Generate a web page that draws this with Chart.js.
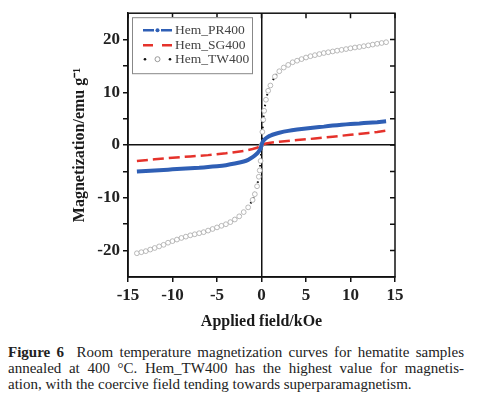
<!DOCTYPE html>
<html>
<head>
<meta charset="utf-8">
<script src="https://cdn.jsdelivr.net/npm/chart.js@4"></script>
<style>
  html, body { margin: 0; padding: 0; background: #fff; }
  #wrap { position: relative; width: 480px; height: 399px; overflow: hidden; }
  #box { position: absolute; left: 0; top: 0; width: 480px; height: 336px; }
  #caption { position: absolute; left: 8px; top: 344px; width: 456px;
    font-family: "Liberation Serif", serif; font-size: 15px; line-height: 16px; color: #222; }
  #caption div { text-align: justify; text-align-last: justify; white-space: nowrap; }
  #caption div.last { text-align-last: left; }
</style>
</head>
<body>
<div id="wrap">
  <div id="box"><canvas id="chart"></canvas></div>
  <div id="caption">
    <div style="white-space:normal"><b>Figure 6</b>&nbsp; Room temperature magnetization curves for hematite samples</div>
    <div style="white-space:normal">annealed at 400 °C. Hem_TW400 has the highest value for magnetis-</div>
    <div class="last">ation, with the coercive field tending towards superparamagnetism.</div>
  </div>
</div>
<script>
// 凡例のラベル
const seriesNames = ['Hem_PR400', 'Hem_SG400', 'Hem_TW400'];

// Hem_PR400 (磁場 kOe / 磁化 emu/g)
const prField = [-14, -13, -12, -11, -10, -9, -8, -7, -6, -5, -4, -3, -2, -1.5, -1, -0.5, -0.3, -0.1, 0,
  0.1, 0.2, 0.3, 0.5, 0.75, 1, 1.5, 2, 3, 4, 5, 6, 7, 8, 9, 10, 11, 12, 13, 14];
const prMag = [-5.0, -4.9, -4.8, -4.7, -4.6, -4.5, -4.4, -4.3, -4.15, -4.0, -3.8, -3.5, -3.1, -2.8, -2.3, -1.6, -1.2, -0.6, 0,
  0.5, 0.8, 1.0, 1.3, 1.6, 1.8, 2.1, 2.35, 2.7, 2.95, 3.15, 3.35, 3.5, 3.7, 3.85, 4.0, 4.1, 4.25, 4.35, 4.5];

// Hem_SG400
const sgField = [-14, -12, -10, -8, -6, -4, -2, -1, -0.5, 0, 0.5, 1, 2, 4, 6, 8, 10, 12, 13, 14];
const sgMag = [-3.0, -2.7, -2.4, -2.15, -1.9, -1.55, -1.1, -0.75, -0.5, 0, 0.3, 0.45, 0.65, 0.95, 1.25, 1.6, 1.95, 2.3, 2.5, 2.75];

// Hem_TW400
const twField = [-14, -13.5, -13, -12.5, -12, -11.5, -11, -10.5, -10, -9.5, -9, -8.5, -8, -7.5, -7, -6.5, -6, -5.5,
  -5, -4.5, -4, -3.5, -3, -2.5, -2, -1.5, -1, -0.75, -0.5, -0.3, -0.2, -0.1, 0,
  0.1, 0.2, 0.3, 0.5, 0.75, 1, 1.5, 2, 2.5, 3, 3.5, 4, 4.5, 5, 5.5, 6, 6.5, 7, 7.5, 8, 8.5, 9, 9.5,
  10, 10.5, 11, 11.5, 12, 12.5, 13, 13.5, 14];
const twMag = [-20.5, -20.3, -20.1, -19.8, -19.5, -19.2, -18.9, -18.5, -18.2, -17.9, -17.6, -17.35, -17.1, -16.9, -16.7, -16.5, -16.2, -15.9,
  -15.6, -15.3, -15.0, -14.6, -14.1, -13.5, -12.7, -11.8, -10.4, -9.3, -7.8, -6.0, -4.8, -3.0, 0,
  2.5, 4.8, 6.5, 8.6, 10.3, 11.3, 13.0, 14.0, 14.7, 15.2, 15.7, 16.0, 16.3, 16.6, 16.85, 17.05, 17.25, 17.45, 17.6, 17.75, 17.9, 18.05, 18.2,
  18.35, 18.5, 18.6, 18.75, 18.9, 19.05, 19.2, 19.35, 19.5];

// 軸の目盛り
const xTicks = [-15, -10, -5, 0, 5, 10, 15];
const yLabelTicks = [-20, -10, 0, 10, 20];

const blue = '#2f5fb5';
const red = '#e5322b';

function toPoints(xs, ys) {
  return xs.map((x, i) => ({ x: x, y: ys[i] }));
}

// 枠線と右・上の内向き目盛り
const framePlugin = {
  id: 'frame',
  afterDatasetsDraw(chart) {
    const { ctx, chartArea: a, scales } = chart;
    ctx.save();
    ctx.strokeStyle = '#111';
    ctx.lineWidth = 1.5;
    ctx.strokeRect(a.left, a.top, a.right - a.left, a.bottom - a.top);
    ctx.beginPath();
    for (let v = -20; v <= 20; v += 5) {
      const y = scales.y.getPixelForValue(v);
      ctx.moveTo(a.right, y);
      ctx.lineTo(a.right - 5, y);
    }
    xTicks.forEach(v => {
      const x = scales.x.getPixelForValue(v);
      ctx.moveTo(x, a.top);
      ctx.lineTo(x, a.top + 5);
    });
    ctx.stroke();
    ctx.restore();
  }
};

// 凡例（左上の枠内）
const legendPlugin = {
  id: 'boxLegend',
  afterDraw(chart) {
    const ctx = chart.ctx;
    const a = chart.chartArea;
    const bx = a.left + 4, by = a.top + 4, bw = 120, bh = 56;
    ctx.save();
    ctx.fillStyle = '#fff';
    ctx.fillRect(bx, by, bw, bh);
    ctx.strokeStyle = '#888';
    ctx.lineWidth = 1;
    ctx.strokeRect(bx + 0.5, by + 0.5, bw, bh);
    const x0 = bx + 11, x1 = bx + 40;
    const rows = [by + 13, by + 28, by + 42];
    // PR400
    ctx.strokeStyle = blue;
    ctx.lineWidth = 2.5;
    ctx.beginPath();
    ctx.moveTo(x0, rows[0]); ctx.lineTo(x0 + 11, rows[0]);
    ctx.moveTo(x1 - 11, rows[0]); ctx.lineTo(x1, rows[0]);
    ctx.stroke();
    ctx.fillStyle = blue;
    ctx.beginPath(); ctx.arc((x0 + x1) / 2, rows[0], 2, 0, Math.PI * 2); ctx.fill();
    // SG400
    ctx.strokeStyle = red;
    ctx.beginPath();
    ctx.moveTo(x0, rows[1]); ctx.lineTo(x0 + 10, rows[1]);
    ctx.moveTo(x1 - 10, rows[1]); ctx.lineTo(x1, rows[1]);
    ctx.stroke();
    // TW400
    ctx.fillStyle = '#111';
    ctx.beginPath(); ctx.arc(x0 + 2, rows[2], 1.3, 0, Math.PI * 2); ctx.fill();
    ctx.beginPath(); ctx.arc(x1 - 2, rows[2], 1.3, 0, Math.PI * 2); ctx.fill();
    ctx.strokeStyle = '#999';
    ctx.lineWidth = 1;
    ctx.beginPath(); ctx.arc((x0 + x1) / 2, rows[2], 2.5, 0, Math.PI * 2); ctx.stroke();
    // テキスト
    ctx.fillStyle = '#444';
    ctx.font = '13.5px "Liberation Serif"';
    ctx.textBaseline = 'middle';
    seriesNames.forEach((name, i) => ctx.fillText(name, x1 + 3, rows[i]));
    ctx.restore();
  }
};

const ctx = document.getElementById('chart').getContext('2d');

new Chart(ctx, {
  type: 'scatter',
  data: {
    datasets: [{
      label: seriesNames[0],
      data: toPoints(prField, prMag),
      showLine: true,
      borderColor: blue,
      backgroundColor: blue,
      borderWidth: 4,
      pointRadius: 0,
      tension: 0.2
    }, {
      label: seriesNames[1],
      data: toPoints(sgField, sgMag),
      showLine: true,
      borderColor: red,
      backgroundColor: red,
      borderWidth: 2.5,
      borderDash: [11, 5],
      pointRadius: 0
    }, {
      label: seriesNames[2],
      data: toPoints(twField, twMag),
      showLine: true,
      borderColor: '#111',
      borderWidth: 2,
      borderDash: [1.5, 4],
      pointRadius: 2.4,
      pointBorderWidth: 0.8,
      pointBorderColor: '#a8a8a8',
      pointBackgroundColor: '#fff'
    }]
  },
  options: {
    responsive: true,
    maintainAspectRatio: false,
    animation: false,
    layout: { padding: { left: 0, right: 85, top: 8, bottom: 0 } },
    plugins: {
      legend: { display: false },
      tooltip: { enabled: false }
    },
    scales: {
      x: {
        type: 'linear',
        min: -15,
        max: 15,
        afterFit: s => { s.height = 59; },
        afterBuildTicks: s => { s.ticks = xTicks.map(v => ({ value: v })); },
        border: { display: true, color: '#111', width: 1.5 },
        grid: {
          drawOnChartArea: true,
          color: c => (c.tick && c.tick.value === 0 ? '#111' : 'rgba(0,0,0,0)'),
          lineWidth: 1.5,
          tickColor: '#111',
          tickLength: 5
        },
        ticks: {
          color: '#222',
          padding: 3,
          font: { family: 'Liberation Serif', size: 17, weight: 'bold' }
        },
        title: {
          display: true,
          text: 'Applied field/kOe',
          color: '#1a1a1a',
          font: { family: 'Liberation Serif', size: 16, weight: 'bold' },
          padding: { top: 0, bottom: 5 }
        }
      },
      y: {
        type: 'linear',
        min: -25,
        max: 25,
        afterFit: s => { s.width = 128; },
        ticks: {
          stepSize: 5,
          color: '#222',
          padding: 3,
          font: { family: 'Liberation Serif', size: 17, weight: 'bold' },
          callback: v => (yLabelTicks.includes(v) ? v : '')
        },
        border: { display: true, color: '#111', width: 1.5 },
        grid: {
          drawOnChartArea: true,
          color: c => (c.tick && c.tick.value === 0 ? '#111' : 'rgba(0,0,0,0)'),
          lineWidth: 1.5,
          tickColor: c => (c.tick && Math.abs(c.tick.value) === 25 ? 'rgba(0,0,0,0)' : '#111'),
          tickLength: 5
        },
        title: {
          display: true,
          text: 'Magnetization/emu g\u207B\u00B9',
          color: '#1a1a1a',
          font: { family: 'Liberation Serif', size: 16, weight: 'bold' },
          padding: { top: 70, bottom: 0 }
        }
      }
    }
  },
  plugins: [framePlugin, legendPlugin]
});
</script>
</body>
</html>
